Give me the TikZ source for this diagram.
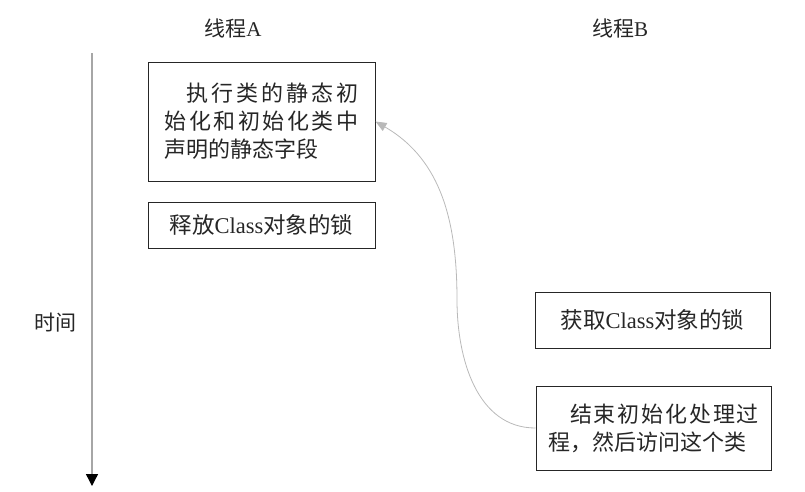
\documentclass[tikz,border=0pt]{standalone}
\usepackage{fontspec}
\setmainfont{Liberation Serif}
\newfontfamily\cjk{Noto Sans CJK SC}
\usetikzlibrary{arrows.meta}
\XeTeXlinebreaklocale "zh"
\XeTeXlinebreakskip=0pt plus 2pt

\begin{document}
\begin{tikzpicture}[x=1pt,y=1pt,
    every node/.style={font=\fontsize{21}{28}\selectfont, text=black!85},
    actbox/.style={draw=black!85, line width=1pt, inner sep=0pt, align=center, font=\fontsize{22.5}{28}\selectfont},
    parbox/.style={actbox, font=\cjk\fontsize{22}{28}\selectfont, align=justify}]
  \useasboundingbox (0,0) rectangle (805,-491);
  % thread headers
  \node (threadA) at (233,-28) {{\cjk 线程}A};
  \node (threadB) at (620,-28) {{\cjk 线程}B};
  % time axis
  \coordinate (axtop) at (92,-53);
  \coordinate (axbot) at (92,-486);
  \draw[gray!70, line width=1.3pt, -{Triangle[color=black,length=12pt,width=12pt]}] (axtop) -- (axbot);
  \node (timelbl) at (55,-323) {\cjk 时间};
  % thread A
  \node[parbox, text width=194pt, minimum width=227pt, minimum height=119pt] (initA) at (261.5,-121.5)
    {\hspace*{1em}执行类的静态初始化和初始化类中声明的静态字段};
  \node[actbox, minimum width=227pt, minimum height=46pt] (releaseA) at (261.5,-225)
    {{\cjk 释放}Class{\cjk 对象的锁}};
  % thread B
  \node[actbox, minimum width=235pt, minimum height=56pt] (acquireB) at (652.5,-320)
    {{\cjk 获取}Class{\cjk 对象的锁}};
  \node[parbox, text width=211pt, minimum width=235pt, minimum height=84pt] (finishB) at (653.5,-428)
    {\hspace*{1em}结束初始化处理过程，然后访问这个类};
  % B sees the initialized class
  \coordinate (bend) at (457,-300);
  \draw[gray!55, line width=0.8pt, -{Triangle[length=11pt,width=9pt]}] (finishB.west)
    to[out=180,in=-90] (bend) to[out=90,in=-30] (initA.east);
\end{tikzpicture}
\end{document}
